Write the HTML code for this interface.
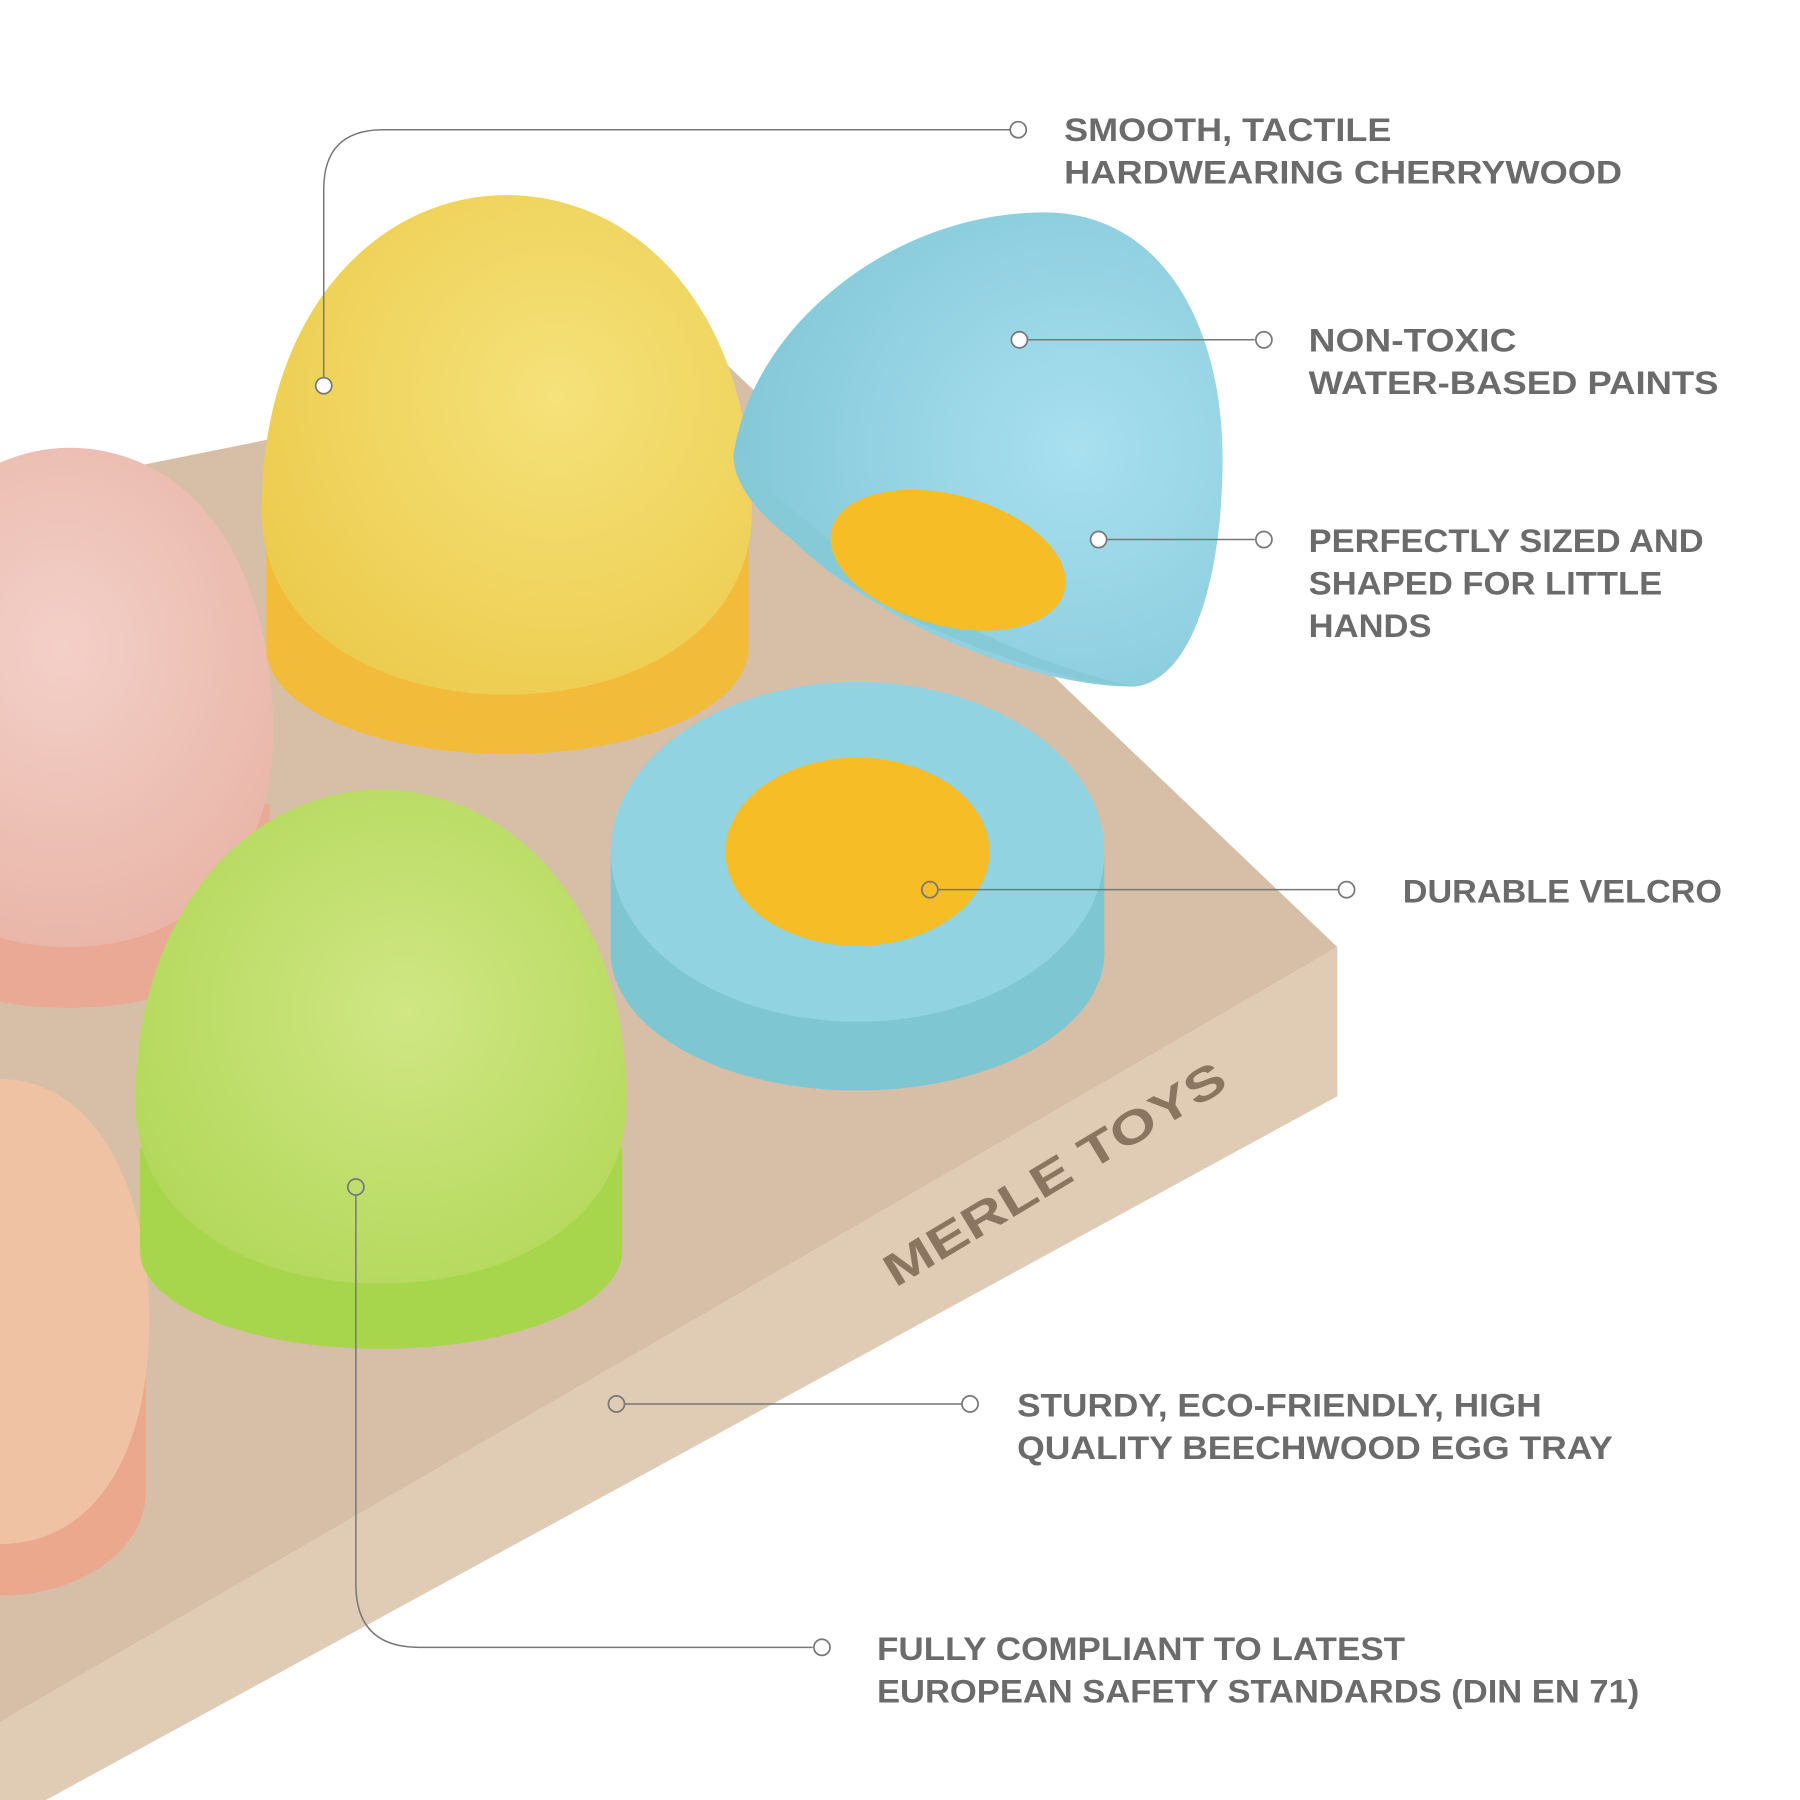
<!DOCTYPE html>
<html><head><meta charset="utf-8"><style>
html,body{margin:0;padding:0;background:#fff}
svg{display:block}
.t{font-family:"Liberation Sans",sans-serif;font-weight:bold;font-size:28px;fill:#6b6b6b}
</style></head><body>
<svg width="1800" height="1800" viewBox="0 0 1568 1568" xmlns="http://www.w3.org/2000/svg">
<defs>
<radialGradient id="gy" cx="0.6" cy="0.4" r="0.7"><stop offset="0" stop-color="#f5e27a"/><stop offset="1" stop-color="#eccb4c"/></radialGradient>
<radialGradient id="gg" cx="0.55" cy="0.45" r="0.7"><stop offset="0" stop-color="#d0e784"/><stop offset="1" stop-color="#afd655"/></radialGradient>
<radialGradient id="gp" cx="0.5" cy="0.4" r="0.7"><stop offset="0" stop-color="#f3d0c8"/><stop offset="1" stop-color="#e8b2a4"/></radialGradient>
<radialGradient id="gb" cx="0.7" cy="0.5" r="0.7"><stop offset="0" stop-color="#a8e0f0"/><stop offset="1" stop-color="#84c8d8"/></radialGradient>
</defs>
<!-- tray -->
<polygon points="0,430 620,305 1165,825 0,1500" fill="#d6bfa6"/>
<polygon points="1165,825 1165,955 40,1568 0,1568 0,1500" fill="#e0cbb4"/>
<text x="0" y="0" transform="translate(780,1122) rotate(-31)" font-family="Liberation Sans,sans-serif" font-weight="bold" font-size="40" fill="#8a7560" textLength="340" lengthAdjust="spacingAndGlyphs">MERLE TOYS</text>
<!-- pink egg -->
<rect x="-115" y="700" width="350" height="90" fill="#eaa994"/>
<ellipse cx="60" cy="790" rx="175" ry="88" fill="#eaa994"/>
<path d="M-130,640 C-130,480 -30,390 60,390 C160,390 238,480 238,640 C238,760 160,825 60,825 C-40,825 -130,760 -130,640Z" fill="url(#gp)"/>
<!-- peach egg -->
<rect x="-125" y="1200" width="252" height="100" fill="#eba88c"/>
<ellipse cx="0" cy="1300" rx="127" ry="90" fill="#eba88c"/>
<path d="M-200,1180 C-200,1020 -80,940 0,940 C80,940 130,1030 130,1150 C130,1270 80,1345 0,1345 C-100,1345 -200,1280 -200,1180Z" fill="#f0c2a4"/>
<!-- yellow egg -->
<rect x="232" y="470" width="420" height="95" fill="#f3bb3a"/>
<ellipse cx="442" cy="565" rx="210" ry="92" fill="#f3bb3a"/>
<path d="M228,445 C228,270 330,170 441,170 C555,170 655,270 655,445 C655,545 560,605 441,605 C325,605 228,545 228,445Z" fill="url(#gy)"/>
<!-- blue disk -->
<path d="M532,745 V830 A215,120 0 0 0 962,830 V745 Z" fill="#7fc6d3"/>
<ellipse cx="747" cy="830" rx="215" ry="118" fill="#7fc6d3"/>
<ellipse cx="747" cy="742" rx="215" ry="148" fill="#92d3e2"/>
<ellipse cx="747" cy="742" rx="115" ry="82" fill="#f6bd27"/>
<!-- green egg -->
<rect x="122" y="1000" width="420" height="90" fill="#a7d64c"/>
<ellipse cx="332" cy="1090" rx="210" ry="85" fill="#a7d64c"/>
<path d="M118,960 C118,790 220,688 332,688 C445,688 546,790 546,960 C546,1060 450,1118 332,1118 C215,1118 118,1060 118,960Z" fill="url(#gg)"/>
<!-- blue half egg -->
<path d="M640,390 C660,280 780,185 910,185 C1010,185 1065,280 1065,400 C1065,500 1040,590 990,598 C900,600 760,540 690,470 C650,440 635,410 640,390 Z" fill="url(#gb)"/>
<path d="M640,390 C700,470 850,570 990,598 C930,600 760,540 690,470 C650,440 635,410 640,390 Z" fill="#86cad8"/>
<ellipse cx="826" cy="488" rx="105" ry="57" transform="rotate(15 826 488)" fill="#f6bd27"/>
<!-- connectors -->
<g stroke="#777" stroke-width="1.3" fill="none">
<path d="M282,336 V165 Q282,113 334,113 H880"/>
<line x1="895" y1="296" x2="1093" y2="296"/>
<line x1="964" y1="470" x2="1093" y2="470"/>
<line x1="817" y1="775" x2="1166" y2="775"/>
<line x1="544" y1="1223" x2="838" y2="1223"/>
<path d="M310,1041 V1380 Q310,1435 365,1435 H708"/>
</g>
<g stroke="#777" stroke-width="1.5" fill="#fff">
<circle cx="887" cy="113" r="7"/><circle cx="282" cy="336" r="7"/>
<circle cx="888" cy="296" r="7"/><circle cx="1101" cy="296" r="7"/>
<circle cx="957" cy="470" r="7"/><circle cx="1101" cy="470" r="7"/>
<circle cx="810" cy="775" r="7" fill="none"/><circle cx="1173" cy="775" r="7"/>
<circle cx="537" cy="1223" r="7" fill="none"/><circle cx="845" cy="1223" r="7"/>
<circle cx="310" cy="1034" r="7" fill="none"/><circle cx="716" cy="1435" r="7"/>
</g>
<g class="t">
<text x="927" y="123" textLength="285" lengthAdjust="spacingAndGlyphs">SMOOTH, TACTILE</text>
<text x="927" y="160" textLength="486" lengthAdjust="spacingAndGlyphs">HARDWEARING CHERRYWOOD</text>
<text x="1140" y="306" textLength="181" lengthAdjust="spacingAndGlyphs">NON-TOXIC</text>
<text x="1140" y="343" textLength="357" lengthAdjust="spacingAndGlyphs">WATER-BASED PAINTS</text>
<text x="1140" y="481" textLength="344" lengthAdjust="spacingAndGlyphs">PERFECTLY SIZED AND</text>
<text x="1140" y="518" textLength="308" lengthAdjust="spacingAndGlyphs">SHAPED FOR LITTLE</text>
<text x="1140" y="555" textLength="107" lengthAdjust="spacingAndGlyphs">HANDS</text>
<text x="1222" y="786" textLength="278" lengthAdjust="spacingAndGlyphs">DURABLE VELCRO</text>
<text x="886" y="1234" textLength="457" lengthAdjust="spacingAndGlyphs">STURDY, ECO-FRIENDLY, HIGH</text>
<text x="886" y="1271" textLength="519" lengthAdjust="spacingAndGlyphs">QUALITY BEECHWOOD EGG TRAY</text>
<text x="764" y="1446" textLength="460" lengthAdjust="spacingAndGlyphs">FULLY COMPLIANT TO LATEST</text>
<text x="764" y="1483" textLength="664" lengthAdjust="spacingAndGlyphs">EUROPEAN SAFETY STANDARDS (DIN EN 71)</text>
</g>
</svg>
</body></html>
